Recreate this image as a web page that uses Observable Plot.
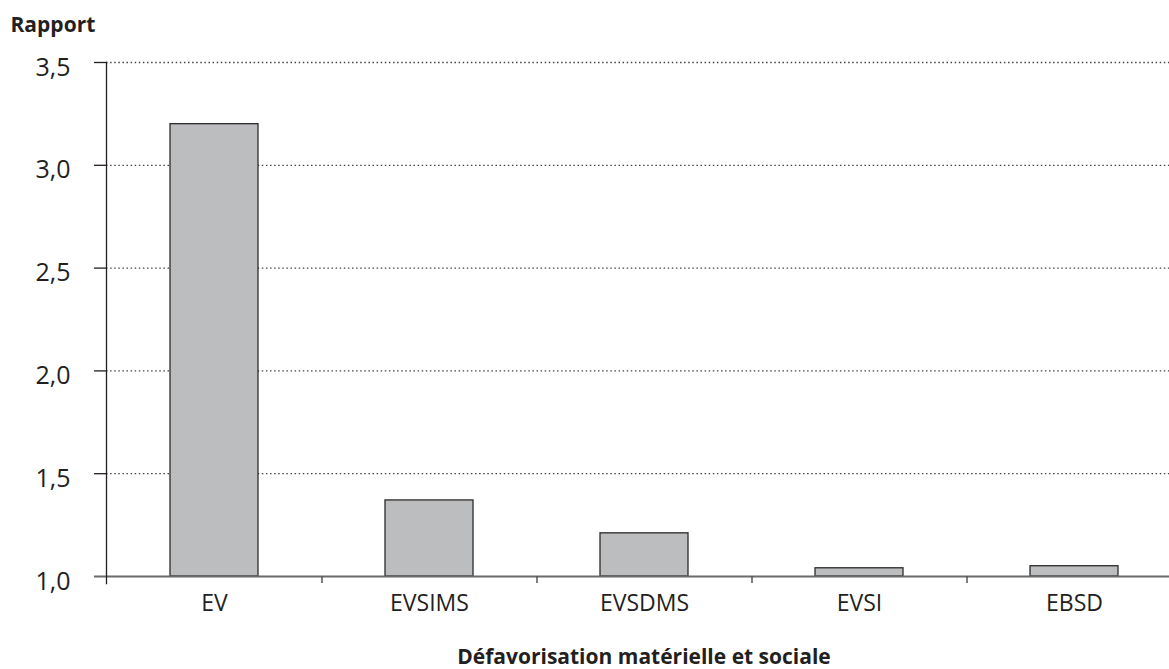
<!DOCTYPE html>
<html>
<head>
<meta charset="utf-8">
<script src="https://cdn.jsdelivr.net/npm/d3@7"></script>
<script src="https://cdn.jsdelivr.net/npm/@observablehq/plot@0.6"></script>
<style>
  html, body { margin: 0; padding: 0; background: #fff; }
  #wrap { width: 1169px; height: 669px; overflow: hidden; }
  #wrap svg { max-width: none !important; width: 1181px; height: 669px; font-family: "Open Sans", "Noto Sans", sans-serif; }
</style>
</head>
<body>
<div id="wrap"></div>
<script>
const categories = ["EV", "EVSIMS", "EVSDMS", "EVSI", "EBSD"];
const values = [3.2, 1.37, 1.21, 1.04, 1.05];
const yTicks = [1.0, 1.5, 2.0, 2.5, 3.0, 3.5];
const gridTicks = [1.5, 2.0, 2.5, 3.0, 3.5];
const yLabel = "Rapport";
const xLabel = "Défavorisation matérielle et sociale";

const data = categories.map((c, i) => ({category: c, value: values[i]}));
const fmt = d => d.toFixed(1).replace(".", ",");

const W = 1181, H = 669;
const mL = 106, mR = 0, mT = 62, mB = 93;
const step = (W - mL - mR) / categories.length;

const chart = Plot.plot({
  width: W,
  height: H,
  marginLeft: mL,
  marginRight: mR,
  marginTop: mT,
  marginBottom: mB,
  style: {fontFamily: "'Open Sans', 'Noto Sans', sans-serif", background: "#fff", color: "#231f20", maxWidth: "none"},
  x: {domain: categories, paddingInner: 0.593, paddingOuter: 0.2965, align: 0.5},
  y: {domain: [1, 3.5]},
  marks: [
    Plot.ruleY(gridTicks, {stroke: "#444", strokeWidth: 1.3, strokeDasharray: "1.5,2.6"}),
    Plot.barY(data, {x: "category", y1: 1, y2: "value", fill: "#bcbdbf", stroke: "#2b2b2b", strokeWidth: 1.3}),
    Plot.ruleY([1], {stroke: "#6b6b6b", strokeWidth: 2, insetLeft: -12}),
    Plot.ruleX(categories.slice(0, -1), {x: d => d, y1: 1, y2: 1, dx: step / 2, insetTop: 0, insetBottom: -7, stroke: "#555", strokeWidth: 1.5}),
    Plot.frame({anchor: "left", stroke: "#231f20", strokeWidth: 1.3, insetBottom: -7}),
    Plot.axisY({ticks: gridTicks, tickSize: 12, text: null, label: null, stroke: "#231f20", strokeWidth: 1.3}),
    Plot.axisY({ticks: yTicks, tickSize: 0, tickPadding: 36, tickFormat: fmt, label: null, fontSize: 25, dy: 5}),
    Plot.axisX({tickSize: 0, tickPadding: 18, label: null, fontSize: 23}),
    Plot.text([yLabel], {frameAnchor: "top-left", dx: -96, dy: -37, lineAnchor: "middle", text: d => d, fontSize: 21, fontWeight: "bold", textAnchor: "start", fill: "#231f20"}),
    Plot.text([xLabel], {frameAnchor: "bottom", dy: 81, lineAnchor: "middle", text: d => d, fontSize: 21, fontWeight: "bold", fill: "#231f20"})
  ]
});
document.getElementById("wrap").appendChild(chart);
</script>
</body>
</html>
